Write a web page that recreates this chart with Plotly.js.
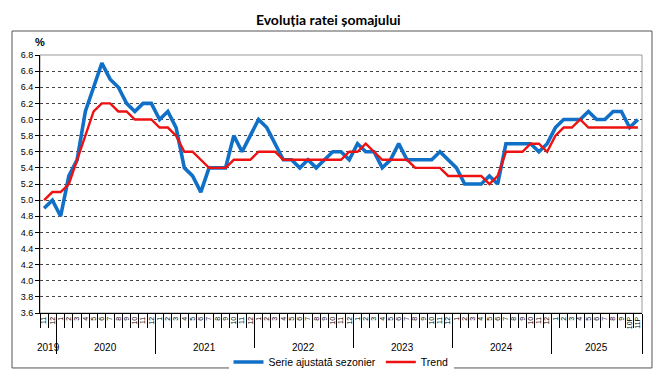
<!DOCTYPE html>
<html>
<head>
<meta charset="utf-8">
<script src="https://cdn.plot.ly/plotly-3.0.1.min.js"></script>
<style>html,body{margin:0;padding:0;background:#fff;}#chart{width:670px;height:370px;}</style>
</head>
<body>
<div id="chart"></div>
<script>
// Month labels, Nov 2019 .. Nov 2025
const monthLabels = [
  "11","12",
  "1","2","3","4","5","6","7","8","9","10","11","12",
  "1","2","3","4","5","6","7","8","9","10","11","12",
  "1","2","3","4","5","6","7","8","9","10","11","12",
  "1","2","3","4","5","6","7","8","9","10","11","12",
  "1","2","3","4","5","6","7","8","9","10","11","12",
  "1","2","3","4","5","6","7","8","9","10P","11P"
];
const years = ["2019","2020","2021","2022","2023","2024","2025"];
const monthsPerYear = [2,12,12,12,12,12,11];

const serieAjustata = [
  4.9,5.0,4.8,5.3,5.5,6.1,6.4,6.7,6.5,6.4,
  6.2,6.1,6.2,6.2,6.0,6.1,5.9,5.4,5.3,5.1,
  5.4,5.4,5.4,5.8,5.6,5.8,6.0,5.9,5.7,5.5,
  5.5,5.4,5.5,5.4,5.5,5.6,5.6,5.5,5.7,5.6,
  5.6,5.4,5.5,5.7,5.5,5.5,5.5,5.5,5.6,5.5,
  5.4,5.2,5.2,5.2,5.3,5.2,5.7,5.7,5.7,5.7,
  5.6,5.7,5.9,6.0,6.0,6.0,6.1,6.0,6.0,6.1,
  6.1,5.9,6.0
];
const trend = [
  5.0,5.1,5.1,5.2,5.5,5.8,6.1,6.2,6.2,6.1,
  6.1,6.0,6.0,6.0,5.9,5.9,5.8,5.6,5.6,5.5,
  5.4,5.4,5.4,5.5,5.5,5.5,5.6,5.6,5.6,5.5,
  5.5,5.5,5.5,5.5,5.5,5.5,5.5,5.6,5.6,5.7,
  5.6,5.5,5.5,5.5,5.5,5.4,5.4,5.4,5.4,5.3,
  5.3,5.3,5.3,5.3,5.2,5.3,5.6,5.6,5.6,5.7,
  5.7,5.6,5.8,5.9,5.9,6.0,5.9,5.9,5.9,5.9,
  5.9,5.9,5.9
];

const n = monthLabels.length;
const xIdx = monthLabels.map((_, i) => i);
const monthBounds = Array.from({length: n + 1}, (_, i) => i - 0.5);
const yearBounds = [];
const yearCenters = [];
let acc = 0;
monthsPerYear.forEach((m, k) => {
  yearCenters.push(acc + m / 2 - 0.5);
  acc += m;
  yearBounds.push(acc - 0.5);
});

const FONT = "Liberation Sans, Arial, sans-serif";
const xr = [-0.5, n - 0.5];

const traces = [
  {x: xIdx, y: serieAjustata, type: "scatter", mode: "lines", name: "Serie ajustată sezonier",
   line: {color: "#1070c8", width: 3.6}},
  {x: xIdx, y: trend, type: "scatter", mode: "lines", name: "Trend",
   line: {color: "#ee1111", width: 2.4}}
];

const annotations = yearCenters.map((c, k) => ({
  x: c, xref: "x", y: -0.132, yref: "paper", text: years[k], showarrow: false,
  xanchor: "center", yanchor: "middle", font: {family: FONT, size: 10, color: "#000"}
}));
annotations.push({
  x: 0, xref: "paper", y: 1.05, yref: "paper", text: "<b>%</b>", showarrow: false,
  xanchor: "center", yanchor: "middle", font: {family: FONT, size: 11, color: "#000"}
});

const layout = {
  width: 670, height: 370,
  margin: {l: 40, r: 28, t: 55, b: 57, autoexpand: false},
  paper_bgcolor: "#fff", plot_bgcolor: "#fff",
  title: {text: "<b>Evoluția ratei șomajului</b>", x: 0.49, xref: "container", xanchor: "center",
          y: 0.946, yref: "container", yanchor: "middle",
          font: {family: "Lato, Liberation Sans, sans-serif", size: 14, color: "#000"}},
  showlegend: true,
  legend: {orientation: "h", x: 0.5, xanchor: "center", y: -0.19, yanchor: "middle",
           font: {family: FONT, size: 10.5, color: "#000"}, itemwidth: 30, tracegroupgap: 0},
  xaxis: {range: xr, tickvals: xIdx, ticktext: monthLabels, tickangle: -90, ticks: "",
          tickfont: {family: FONT, size: 7, color: "#000"}, showgrid: false, zeroline: false,
          showline: true, linecolor: "#000", linewidth: 1, fixedrange: true, automargin: false},
  xaxis2: {range: xr, overlaying: "x", anchor: "y", side: "bottom", tickvals: monthBounds,
           showticklabels: false, ticks: "outside", ticklen: 14, tickcolor: "#000", tickwidth: 1,
           showgrid: false, zeroline: false, showline: false, automargin: false},
  xaxis3: {range: xr, overlaying: "x", anchor: "y", side: "bottom", tickvals: yearBounds,
           showticklabels: false, ticks: "outside", ticklen: 40, tickcolor: "#000", tickwidth: 1,
           showgrid: false, zeroline: false, showline: false, automargin: false},
  yaxis: {range: [3.6, 6.8], dtick: 0.2, tick0: 3.6, tickformat: ".1f", automargin: false,
          tickfont: {family: FONT, size: 9, color: "#000"}, ticks: "outside", ticklen: 4,
          tickcolor: "#000", showline: true, linecolor: "#000", linewidth: 1,
          showgrid: true, gridcolor: "#444", griddash: "dot", gridwidth: 1, zeroline: false},
  shapes: [
    {type: "rect", xref: "paper", yref: "paper", x0: 0, x1: 1, y0: 0, y1: 1,
     line: {color: "#999", width: 1}, layer: "below"},
    {type: "rect", xref: "paper", yref: "paper", x0: -0.0465, x1: 1.0166, y0: -0.213, y1: 1.093,
     line: {color: "#555", width: 1}}
  ],
  annotations: annotations
};

// invisible helper traces to activate the overlay tick axes
traces.push({x: [0], y: [null], xaxis: "x2", yaxis: "y", showlegend: false, hoverinfo: "skip", mode: "lines"});
traces.push({x: [0], y: [null], xaxis: "x3", yaxis: "y", showlegend: false, hoverinfo: "skip", mode: "lines"});

Plotly.newPlot("chart", traces, layout, {staticPlot: true, displayModeBar: false});
</script>
</body>
</html>
